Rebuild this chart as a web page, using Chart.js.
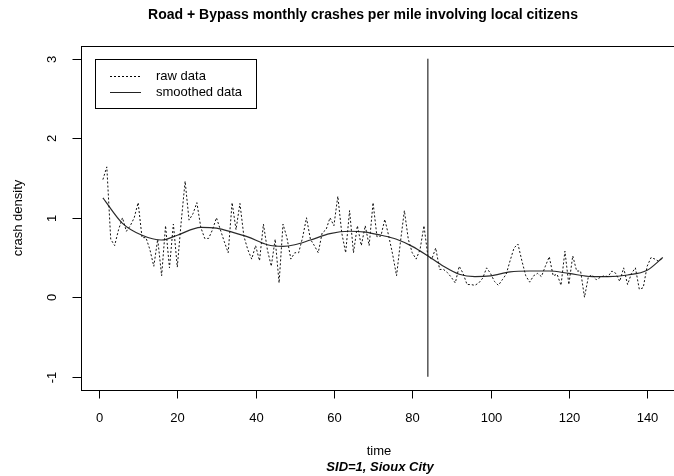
<!DOCTYPE html>
<html>
<head>
<meta charset="utf-8">
<script src="https://cdn.jsdelivr.net/npm/chart.js@4"></script>
<style>
  html, body { margin: 0; padding: 0; background: #fff; overflow: hidden; }
  #wrap { width: 700px; height: 476px; }
</style>
</head>
<body>
<div id="wrap"><canvas id="crash-chart" width="700" height="476"></canvas></div>
<script>
// raw monthly crash density, months 1..144
const rawDensity = [
  1.48, 1.64, 0.73, 0.65, 0.85, 1.00, 0.83, 0.90, 1.00, 1.19,
  0.75, 0.75, 0.60, 0.39, 0.73, 0.27, 0.90, 0.37, 0.92, 0.38,
  0.95, 1.46, 0.97, 1.05, 1.19, 0.88, 0.74, 0.74, 0.85, 1.00,
  0.85, 0.70, 0.56, 1.19, 0.85, 1.18, 0.77, 0.60, 0.48, 0.65,
  0.46, 0.92, 0.60, 0.39, 0.73, 0.18, 0.92, 0.75, 0.48, 0.56,
  0.56, 0.75, 1.00, 0.73, 0.65, 0.56, 0.81, 0.85, 1.00, 0.90,
  1.27, 0.81, 0.56, 1.09, 0.56, 0.90, 0.65, 0.90, 0.65, 1.19,
  0.76, 0.77, 0.98, 0.77, 0.54, 0.27, 0.70, 1.09, 0.73, 0.56,
  0.48, 0.60, 0.90, 0.52, 0.48, 0.62, 0.35, 0.35, 0.31, 0.25,
  0.18, 0.39, 0.30, 0.16, 0.16, 0.15, 0.18, 0.24, 0.37, 0.30,
  0.20, 0.15, 0.22, 0.29, 0.46, 0.62, 0.67, 0.46, 0.27, 0.19,
  0.27, 0.30, 0.26, 0.39, 0.51, 0.27, 0.29, 0.15, 0.58, 0.16,
  0.52, 0.33, 0.33, 0.00, 0.26, 0.28, 0.22, 0.25, 0.27, 0.26,
  0.33, 0.30, 0.20, 0.37, 0.16, 0.30, 0.37, 0.10, 0.12, 0.39,
  0.50, 0.48, 0.45, 0.50
];

// smoothed curve read at a few months
const smoothMonths = [1, 6, 11, 16, 20, 26, 30, 34, 38, 43, 47, 50, 54, 59, 64, 68, 72, 76, 80, 84, 88, 92, 96, 100, 105, 110, 115, 120, 126, 130, 135, 140, 144];
const smoothDensity = [1.25, 0.93, 0.78, 0.72, 0.78, 0.88, 0.87, 0.82, 0.76, 0.66, 0.64, 0.66, 0.72, 0.80, 0.83, 0.82, 0.78, 0.73, 0.64, 0.52, 0.39, 0.29, 0.26, 0.27, 0.32, 0.33, 0.33, 0.30, 0.26, 0.26, 0.28, 0.34, 0.50];

// vertical marker (bypass opening)
const markerX = [84, 84];
const markerY = [-1, 3];

const xTicks = [0, 20, 40, 60, 80, 100, 120, 140];
const yTicks = [-1, 0, 1, 2, 3];

const rawPoints = rawDensity.map((v, i) => ({ x: i + 1, y: v }));
const smoothPoints = smoothMonths.map((m, i) => ({ x: m, y: smoothDensity[i] }));
const markerPoints = markerX.map((m, i) => ({ x: m, y: markerY[i] }));

const FONT = '"Liberation Sans", Arial, sans-serif';

// draws the R-style box, axes, labels and legend
const rStyle = {
  id: 'rStyle',
  afterDraw(chart) {
    const ctx = chart.ctx;
    const area = chart.chartArea;
    const xs = chart.scales.x;
    const ys = chart.scales.y;
    ctx.save();
    ctx.strokeStyle = '#000';
    ctx.fillStyle = '#000';
    ctx.lineWidth = 1;

    // box
    const L = Math.round(area.left) + 0.5;
    const T = Math.round(area.top) + 0.5;
    const B = Math.round(area.bottom) + 0.5;
    const R = Math.round(area.right) + 0.5;
    ctx.strokeRect(L, T, R - L, B - T);

    // x axis
    ctx.font = '13px ' + FONT;
    ctx.textAlign = 'center';
    ctx.textBaseline = 'middle';
    xTicks.forEach(t => {
      const px = Math.round(xs.getPixelForValue(t)) + 0.5;
      ctx.beginPath();
      ctx.moveTo(px, B);
      ctx.lineTo(px, B + 8);
      ctx.stroke();
      ctx.fillText(String(t), px, B + 28);
    });

    // y axis
    yTicks.forEach(t => {
      const py = Math.round(ys.getPixelForValue(t)) + 0.5;
      ctx.beginPath();
      ctx.moveTo(L, py);
      ctx.lineTo(L - 9, py);
      ctx.stroke();
      ctx.save();
      ctx.translate(52, py);
      ctx.rotate(-Math.PI / 2);
      ctx.fillText(String(t), 0, 0);
      ctx.restore();
    });

    // axis titles
    ctx.fillText('time', 379, 451);
    ctx.font = 'italic bold 13px ' + FONT;
    ctx.fillText('SID=1, Sioux City', 380, 467);
    ctx.font = '13px ' + FONT;
    ctx.save();
    ctx.translate(18, 218);
    ctx.rotate(-Math.PI / 2);
    ctx.fillText('crash density', 0, 0);
    ctx.restore();

    // main title
    ctx.font = 'bold 14px ' + FONT;
    ctx.fillText('Road + Bypass monthly crashes per mile involving local citizens', 363, 15);

    // legend
    ctx.strokeRect(95.5, 59.5, 161, 49);
    ctx.font = '13px ' + FONT;
    ctx.textAlign = 'left';
    ctx.fillText('raw data', 156, 76);
    ctx.fillText('smoothed data', 156, 92);
    ctx.setLineDash([2, 2]);
    ctx.beginPath();
    ctx.moveTo(110, 76.5);
    ctx.lineTo(141, 76.5);
    ctx.stroke();
    ctx.setLineDash([]);
    ctx.strokeStyle = '#222';
    ctx.beginPath();
    ctx.moveTo(110, 92.5);
    ctx.lineTo(141, 92.5);
    ctx.stroke();

    ctx.restore();
  }
};

const crashChart = new Chart(document.getElementById('crash-chart'), {
  type: 'line',
  data: {
    datasets: [
      {
        label: 'raw data',
        data: rawPoints,
        borderColor: '#111',
        borderWidth: 1,
        borderDash: [2, 2],
        pointRadius: 0,
        tension: 0,
        fill: false
      },
      {
        label: 'smoothed data',
        data: smoothPoints,
        borderColor: '#2a2a2a',
        borderWidth: 1.2,
        pointRadius: 0,
        cubicInterpolationMode: 'monotone',
        fill: false
      },
      {
        label: 'marker',
        data: markerPoints,
        borderColor: '#000',
        borderWidth: 1,
        pointRadius: 0,
        fill: false
      }
    ]
  },
  options: {
    responsive: false,
    animation: false,
    events: [],
    layout: { padding: { left: 80.5, top: 46, right: 14.8, bottom: 86.5 } },
    plugins: { legend: { display: false }, tooltip: { enabled: false } },
    scales: {
      x: { type: 'linear', min: -4.72, max: 149.72, display: false },
      y: { type: 'linear', min: -1.16, max: 3.16, display: false }
    }
  },
  plugins: [rStyle]
});
</script>
</body>
</html>
